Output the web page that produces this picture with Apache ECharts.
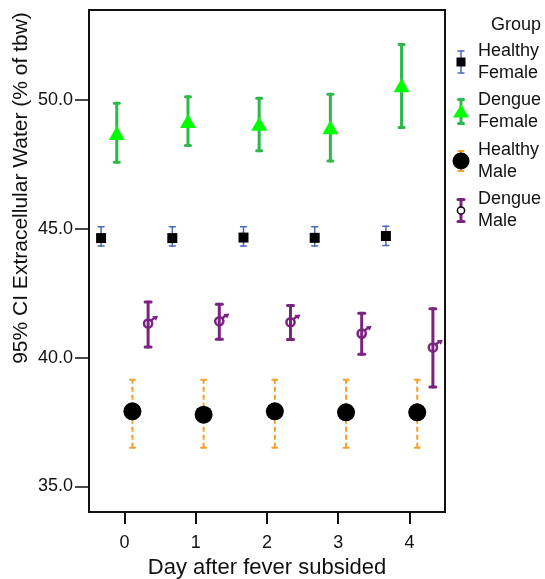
<!DOCTYPE html>
<html>
<head>
<meta charset="utf-8">
<script src="https://cdn.jsdelivr.net/npm/echarts@6/dist/echarts.min.js"></script>
<style>
html,body{margin:0;padding:0;background:#fff;}
#c{width:545px;height:579px;}
</style>
</head>
<body>
<div id="c"></div>
<script>
// ---- data ----
const days = [0, 1, 2, 3, 4];
const groupNames = ['Healthy\nFemale', 'Dengue\nFemale', 'Healthy\nMale', 'Dengue\nMale'];
const groupOffsets = [-0.33, -0.11, 0.11, 0.33];

const hfMean = [44.64, 44.64, 44.66, 44.65, 44.72];
const hfLow  = [44.33, 44.33, 44.33, 44.33, 44.35];
const hfHigh = [45.08, 45.08, 45.08, 45.08, 45.10];

const dfMean = [48.72, 49.19, 49.08, 48.95, 50.58];
const dfLow  = [47.59, 48.24, 48.03, 47.63, 48.94];
const dfHigh = [49.88, 50.13, 50.07, 50.23, 52.16];

const hmMean = [37.91, 37.78, 37.91, 37.87, 37.87];
const hmLow  = [36.50, 36.50, 36.50, 36.50, 36.50];
const hmHigh = [39.14, 39.14, 39.14, 39.14, 39.14];

const dmMean = [41.32, 41.41, 41.37, 40.93, 40.39];
const dmLow  = [40.41, 40.71, 40.70, 40.13, 38.86];
const dmHigh = [42.16, 42.07, 42.02, 41.72, 41.90];

const xTicks = [0, 1, 2, 3, 4];
const yTicks = [35, 40, 45, 50];

// ---- styles ----
const FONT = '"Liberation Sans", Arial, sans-serif';

function pts(mean, g) { return days.map((d, i) => [d + groupOffsets[g], mean[i]]); }
function bars(lo, hi, g) { return days.map((d, i) => [d + groupOffsets[g], lo[i], hi[i]]); }

function errSeries(name, data, color, width, capW, dash) {
  return {
    type: 'custom', name: name, data: data, z: 2, silent: true,
    renderItem: function (params, api) {
      const x = api.value(0);
      const a = api.coord([x, api.value(1)]);
      const b = api.coord([x, api.value(2)]);
      const st = { stroke: color, lineWidth: width, lineCap: dash ? 'butt' : 'round' };
      if (dash) st.lineDash = dash;
      const capSt = { stroke: color, lineWidth: width, lineCap: 'round' };
      return {
        type: 'group', children: [
          { type: 'line', shape: { x1: a[0], y1: a[1], x2: b[0], y2: b[1] }, style: st },
          { type: 'line', shape: { x1: a[0] - capW / 2, y1: a[1], x2: a[0] + capW / 2, y2: a[1] }, style: capSt },
          { type: 'line', shape: { x1: b[0] - capW / 2, y1: b[1], x2: b[0] + capW / 2, y2: b[1] }, style: capSt }
        ]
      };
    }
  };
}

// male-symbol marker drawn at the library's coordinate for each point
function maleSeries(name, data, color) {
  return {
    type: 'custom', name: name, data: data, z: 6, silent: true,
    renderItem: function (params, api) {
      const p = api.coord([api.value(0), api.value(1)]);
      const cx = p[0], cy = p[1];
      return {
        type: 'group', children: [
          { type: 'circle', shape: { cx: cx, cy: cy, r: 4.1 }, style: { fill: 'none', stroke: color, lineWidth: 2.5 } },
          { type: 'line', shape: { x1: cx + 3, y1: cy - 3, x2: cx + 6.5, y2: cy - 6 }, style: { stroke: color, lineWidth: 2.4 } },
          { type: 'polygon', shape: { points: [[cx + 4, cy - 7.2], [cx + 10, cy - 7.8], [cx + 8, cy - 2.8]] }, style: { fill: color } }
        ]
      };
    }
  };
}

const HF_BAR = '#4a68c0', DF_BAR = '#2fb84a', DF_MK = '#00ff00', HM_BAR = '#f5a02a', DM = '#7a2381';

const chart = echarts.init(document.getElementById('c'), null, { renderer: 'canvas' });

// legend graphics
const lx = 461, ltx = 478;
const LH = 22;
function legendText(y1, t) {
  const lines = t.split('\n');
  return lines.map((s, k) => ({
    type: 'text', x: ltx, y: y1 + k * LH,
    style: { text: s, font: '18px ' + FONT, fill: '#111', textVerticalAlign: 'middle', textAlign: 'left' }
  }));
}
function vbar(cy, half, color, w, capW, dash) {
  const st = { stroke: color, lineWidth: w };
  if (dash) st.lineDash = dash;
  return [
    { type: 'line', shape: { x1: lx, y1: cy - half, x2: lx, y2: cy + half }, style: st },
    { type: 'line', shape: { x1: lx - capW / 2, y1: cy - half, x2: lx + capW / 2, y2: cy - half }, style: { stroke: color, lineWidth: w, lineCap: 'round' } },
    { type: 'line', shape: { x1: lx - capW / 2, y1: cy + half, x2: lx + capW / 2, y2: cy + half }, style: { stroke: color, lineWidth: w, lineCap: 'round' } }
  ];
}
const e0 = 51, step = 49.5;
const c0 = e0 + LH / 2;
const legendEls = [
  { type: 'text', x: 541, y: 25, style: { text: 'Group', font: '18px ' + FONT, fill: '#111', textAlign: 'right', textVerticalAlign: 'middle' } },
  ...legendText(e0, groupNames[0]),
  ...vbar(c0, 11, HF_BAR, 1.5, 6),
  { type: 'rect', shape: { x: lx - 4.5, y: c0 - 4.5, width: 9, height: 9 }, style: { fill: '#000' } },
  ...legendText(e0 + step, groupNames[1]),
  ...vbar(c0 + step, 12, DF_BAR, 3, 5),
  { type: 'polygon', shape: { points: [[lx, c0 + step - 7], [lx + 8, c0 + step + 6], [lx - 8, c0 + step + 6]] }, style: { fill: DF_MK } },
  ...legendText(e0 + 2 * step, groupNames[2]),
  ...vbar(c0 + 2 * step, 10, HM_BAR, 2, 5, [4, 2]),
  { type: 'circle', shape: { cx: lx, cy: c0 + 2 * step, r: 8.5 }, style: { fill: '#000' } },
  ...legendText(e0 + 3 * step, groupNames[3]),
  ...vbar(c0 + 3 * step, 11, DM, 3, 6),
  { type: 'circle', shape: { cx: lx, cy: c0 + 3 * step, r: 3.6 }, style: { fill: '#fff', stroke: '#000', lineWidth: 1.5 } }
];

const option = {
  animation: false,
  backgroundColor: '#fff',
  grid: { left: 89, right: 100, top: 10, bottom: 67, outerBoundsMode: 'none', containLabel: false, show: true, borderColor: '#111', borderWidth: 2, backgroundColor: 'transparent' },
  xAxis: {
    type: 'value', min: -0.5, max: 4.5,
    name: 'Day after fever subsided', nameLocation: 'middle', nameGap: 43,
    nameTextStyle: { fontSize: 22, fontFamily: FONT, color: '#111' },
    axisLine: { show: false, onZero: false },
    axisTick: { show: true, length: 12, inside: false, customValues: xTicks, lineStyle: { color: '#111', width: 2 } },
    axisLabel: { customValues: xTicks, fontSize: 18, fontFamily: FONT, color: '#111', margin: 22 },
    splitLine: { show: false }
  },
  yAxis: {
    type: 'value', min: 34, max: 53.5,
    axisLine: { show: false, onZero: false },
    axisTick: { show: true, length: 14, customValues: yTicks, lineStyle: { color: '#111', width: 1.5 } },
    axisLabel: { customValues: yTicks, fontSize: 18, fontFamily: FONT, color: '#111', margin: 16, formatter: v => v.toFixed(1) },
    splitLine: { show: false }
  },
  graphic: [
    { type: 'text', x: 21, y: 188, rotation: Math.PI / 2,
      style: { text: '95% CI Extracellular Water (% of tbw)', font: '21px ' + FONT, fill: '#111', textAlign: 'center', textVerticalAlign: 'middle' } },
    ...legendEls
  ],
  series: [
    errSeries('hfErr', bars(hfLow, hfHigh, 0), HF_BAR, 1.5, 6),
    errSeries('dfErr', bars(dfLow, dfHigh, 1), DF_BAR, 3, 5),
    errSeries('hmErr', bars(hmLow, hmHigh, 2), HM_BAR, 2, 5, [5, 3]),
    errSeries('dmErr', bars(dmLow, dmHigh, 3), DM, 3, 6),
    { type: 'scatter', name: groupNames[0], data: pts(hfMean, 0), symbol: 'rect', symbolSize: 10, itemStyle: { color: '#000', opacity: 1 }, z: 5 },
    { type: 'scatter', name: groupNames[1], data: pts(dfMean, 1), symbol: 'triangle', symbolSize: [16, 14], itemStyle: { color: DF_MK, opacity: 1 }, z: 5 },
    { type: 'scatter', name: groupNames[2], data: pts(hmMean, 2), symbol: 'circle', symbolSize: 18, itemStyle: { color: '#000', opacity: 1 }, z: 5 },
    maleSeries(groupNames[3], pts(dmMean, 3), DM)
  ]
};
chart.setOption(option);
</script>
</body>
</html>
